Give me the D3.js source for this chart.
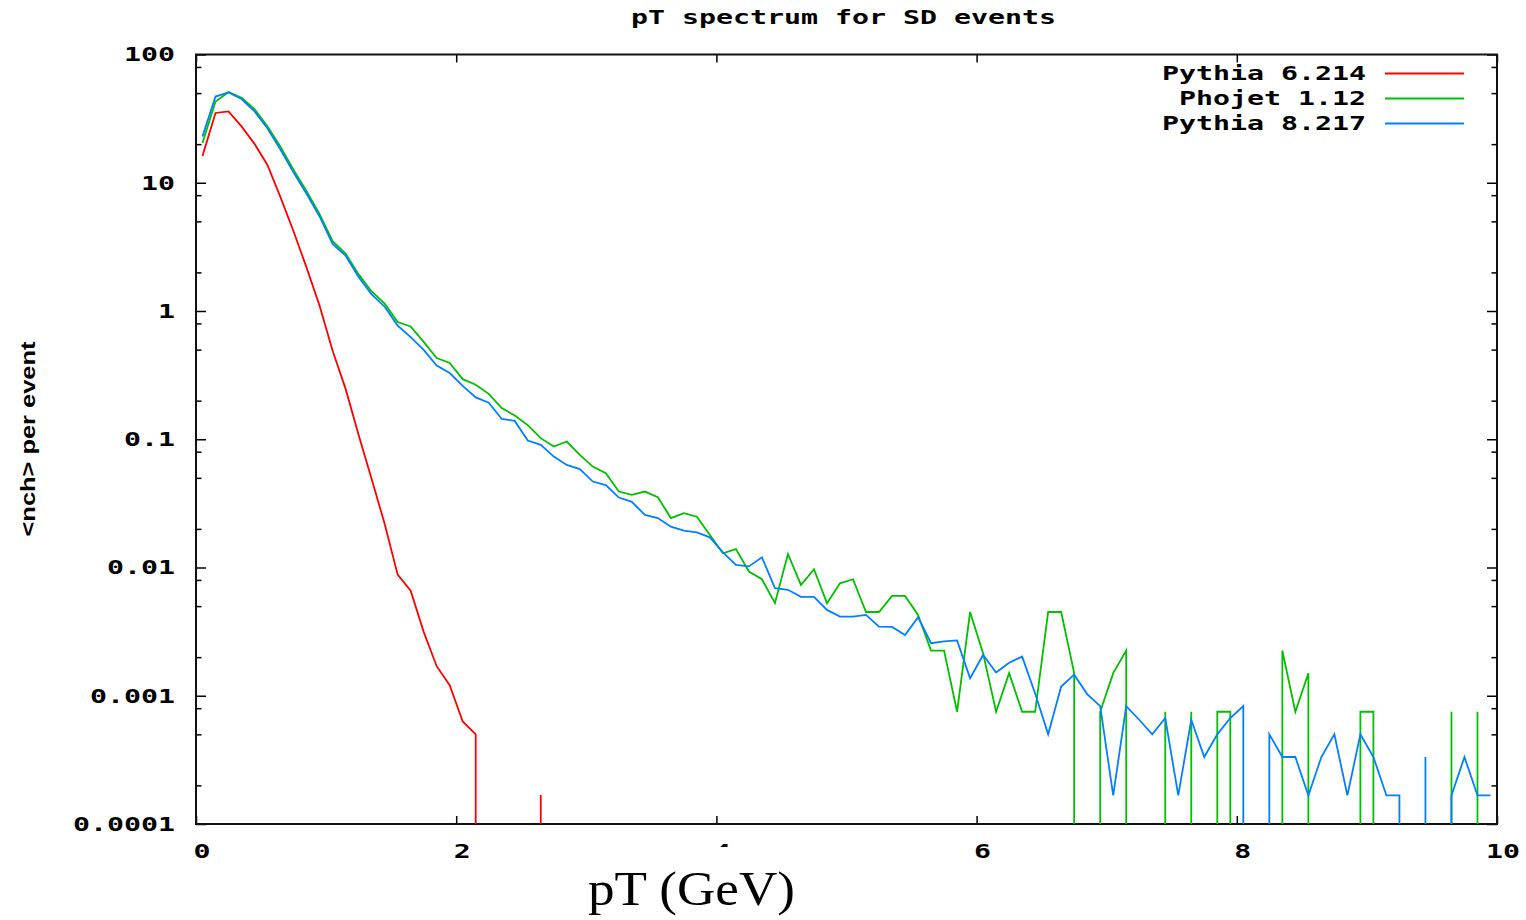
<!DOCTYPE html>
<html>
<head>
<meta charset="utf-8">
<script src="https://cdn.jsdelivr.net/npm/d3@7"></script>
<style>
  html, body { margin: 0; padding: 0; background: #fff; }
  svg { display: block; }
  .mono { font-family: "DejaVu Sans Mono", monospace; font-weight: bold; font-size: 20px; fill: #000; }
</style>
</head>
<body>
<svg width="1526" height="920"></svg>
<script>
// bins of 0.1 GeV, values at the bin centre
const ptBins = d3.range(100).map(i => +(0.05 + 0.1 * i).toFixed(2));

const pythia6 = [
  16.2, 35, 36, 27.5, 20.1, 13.7, 7.7, 4.17, 2.18, 1.1,
  0.49, 0.247, 0.108, 0.049, 0.0219, 0.0088, 0.0066, 0.00315, 0.0017, 0.00121,
  0.00063, 0.0005, 0, 0, 0, 0, 0.000168, 0, 0, 0,
  0, 0, 0, 0, 0, 0, 0, 0, 0, 0,
  0, 0, 0, 0, 0, 0, 0, 0, 0, 0,
  0, 0, 0, 0, 0, 0, 0, 0, 0, 0,
  0, 0, 0, 0, 0, 0, 0, 0, 0, 0,
  0, 0, 0, 0, 0, 0, 0, 0, 0, 0,
  0, 0, 0, 0, 0, 0, 0, 0, 0, 0,
  0, 0, 0, 0, 0, 0, 0, 0, 0, 0
];

const phojet = [
  20.4, 43, 51, 46, 37.5, 27.5, 19, 12.6, 8.6, 5.7,
  3.5, 2.8, 1.93, 1.42, 1.14, 0.82, 0.757, 0.575, 0.43, 0.393,
  0.294, 0.266, 0.226, 0.175, 0.153, 0.129, 0.102, 0.0877, 0.096, 0.0755,
  0.0612, 0.0543, 0.0391, 0.0368, 0.0391, 0.0353, 0.0243, 0.0265, 0.0249, 0.0179,
  0.0129, 0.0139, 0.0093, 0.0081, 0.00527, 0.01276, 0.00731, 0.0097, 0.00527, 0.00753,
  0.0081, 0.0045, 0.0045, 0.006, 0.006, 0.00427, 0.00225, 0.00225, 0.00075, 0.0045,
  0.00214, 0.00075, 0.0015, 0.00075, 0.00075, 0.0045, 0.0045, 0.0015, 0, 0.00075,
  0.0015, 0.00225, 0, 0, 0.00075, 0, 0.00075, 0, 0.00075, 0.00075,
  0, 0, 0, 0.00225, 0.00075, 0.0015, 0, 0, 0, 0.00075,
  0.00075, 0, 0, 0, 0, 0, 0.00075, 0, 0.00075, 0
];

const pythia8 = [
  23, 47, 50.6, 45, 36, 26.5, 18.1, 12, 8.2, 5.46,
  3.34, 2.7, 1.84, 1.35, 1.08, 0.77, 0.625, 0.498, 0.376, 0.328,
  0.261, 0.212, 0.193, 0.144, 0.139, 0.0977, 0.0904, 0.0733, 0.0631, 0.0585,
  0.0468, 0.0439, 0.0351, 0.0325, 0.0257, 0.0243, 0.0208, 0.0194, 0.0188, 0.0172,
  0.0131, 0.0105, 0.0102, 0.012, 0.0069, 0.0067, 0.0059, 0.0059, 0.00467, 0.00414,
  0.00414, 0.00427, 0.00346, 0.00344, 0.00298, 0.00409, 0.00257, 0.00265, 0.0027, 0.00137,
  0.00208, 0.00152, 0.00181, 0.00202, 0.00104, 0.0005, 0.00118, 0.00146, 0.00103, 0.00083,
  0.000167, 0.00083, 0.00065, 0.0005, 0.00067, 0.000167, 0.00065, 0.000333, 0.0005, 0.00067,
  0.00083, 0, 0.0005, 0.000333, 0.000333, 0.000167, 0.000333, 0.0005, 0.000167, 0.0005,
  0.000333, 0.000167, 0.000167, 0, 0.000333, 0, 0.000167, 0.000333, 0.000167, 0.000167
];

const seriesNames = ["Pythia 6.214", "Phojet 1.12", "Pythia 8.217"];
const seriesColors = ["#ff0000", "#00c000", "#0080ff"];

const xTicks = [0, 2, 4, 6, 8, 10];
const yTicks = [100, 10, 1, 0.1, 0.01, 0.001, 0.0001];
const yTickLabels = ["100", "10", "1", "0.1", "0.01", "0.001", "0.0001"];
const yMinorMult = [2, 5, 8];

const svg = d3.select("svg");
const plotLeft = 196, plotRight = 1497, plotTop = 54.5, plotBottom = 824;
const charW = 17;

const x = d3.scaleLinear().domain([0, 10]).range([plotLeft, plotRight]);
const y = d3.scaleLog().domain([1e-4, 100]).range([plotBottom, plotTop]);

// stretch the mono font so it looks like the gnuplot bitmap font
const stretch = sel => sel
    .attr("textLength", function () { return this.textContent.length * charW; })
    .attr("lengthAdjust", "spacingAndGlyphs");

// minor ticks on the log axis
const yMinor = [];
for (let e = -4; e < 2; e++) {
    yMinorMult.forEach(m => yMinor.push(m * Math.pow(10, e)));
}

// axes (ticks pointing inwards, mirrored on top and right)
const axisStyle = g => {
    g.select(".domain").remove();
    g.selectAll(".tick line").attr("stroke", "#000").attr("stroke-width", 1.5);
};

svg.append("g")
    .attr("transform", `translate(${plotLeft},0)`)
    .call(d3.axisLeft(y).tickValues(yTicks).tickSize(-10).tickPadding(21)
        .tickFormat((d, i) => yTickLabels[i]))
    .call(axisStyle)
    .call(g => g.selectAll("text").attr("class", "mono").call(stretch));

svg.append("g")
    .attr("transform", `translate(${plotLeft},0)`)
    .call(d3.axisLeft(y).tickValues(yMinor).tickSize(-5.5).tickFormat(""))
    .call(axisStyle);

svg.append("g")
    .attr("transform", `translate(${plotRight},0)`)
    .call(d3.axisRight(y).tickValues(yTicks).tickSize(-10).tickFormat(""))
    .call(axisStyle);

svg.append("g")
    .attr("transform", `translate(${plotRight},0)`)
    .call(d3.axisRight(y).tickValues(yMinor).tickSize(-5.5).tickFormat(""))
    .call(axisStyle);

svg.append("g")
    .attr("transform", `translate(0,${plotBottom})`)
    .call(d3.axisBottom(x).tickValues(xTicks).tickSize(-8).tickPadding(20).tickFormat(d3.format("d")))
    .call(axisStyle)
    .call(g => g.selectAll("text").attr("class", "mono").attr("dx", 5.5).call(stretch));

svg.append("g")
    .attr("transform", `translate(0,${plotTop})`)
    .call(d3.axisTop(x).tickValues(xTicks).tickSize(-8).tickFormat(""))
    .call(axisStyle);

// axis groups carry their own font settings, clear them so the class applies
svg.selectAll("g").attr("font-size", null).attr("font-family", null);

// frame
svg.append("rect")
    .attr("x", plotLeft).attr("y", plotTop)
    .attr("width", plotRight - plotLeft).attr("height", plotBottom - plotTop)
    .attr("fill", "none").attr("stroke", "#111").attr("stroke-width", 2);

// clip for the curves
svg.append("clipPath").attr("id", "plotclip")
    .append("rect")
    .attr("x", plotLeft).attr("y", plotTop)
    .attr("width", plotRight - plotLeft).attr("height", plotBottom - plotTop);

// gnuplot draws a zero bin on a log axis as a drop to -inf,
// so a neighbour of an empty bin gets a vertical line to the bottom
const toPoints = vals => {
    const pts = [];
    vals.forEach((v, i) => {
        if (v <= 0) return;
        const px = ptBins[i];
        if (i > 0 && vals[i - 1] === 0) pts.push({ x: px, v: 1e-4 });
        pts.push({ x: px, v: v });
        if (i < vals.length - 1 && vals[i + 1] === 0) {
            pts.push({ x: px, v: 1e-4 });
            pts.push(null);
        }
    });
    return pts;
};

const line = d3.line()
    .defined(d => d !== null)
    .x(d => x(d.x))
    .y(d => y(d.v));

const series = [pythia6, phojet, pythia8];

svg.append("g")
    .attr("clip-path", "url(#plotclip)")
    .selectAll("path")
    .data(series)
    .join("path")
    .attr("d", d => line(toPoints(d)))
    .attr("fill", "none")
    .attr("stroke", (d, i) => seriesColors[i])
    .attr("stroke-width", 1.8)
    .attr("stroke-linejoin", "miter");

// legend
const legend = svg.append("g")
    .selectAll("g")
    .data(seriesNames)
    .join("g")
    .attr("transform", (d, i) => `translate(0, ${73.5 + i * 25})`);

legend.append("text")
    .attr("class", "mono")
    .attr("x", 1366)
    .attr("dy", "0.32em")
    .attr("text-anchor", "end")
    .text(d => d)
    .call(stretch);

legend.append("line")
    .attr("x1", 1385).attr("x2", 1464)
    .attr("stroke", (d, i) => seriesColors[i])
    .attr("stroke-width", 1.8);

// title
svg.append("text")
    .attr("class", "mono")
    .attr("x", 843.5).attr("y", 23.5)
    .attr("text-anchor", "middle")
    .text("pT spectrum for SD events")
    .call(stretch);

// y label
svg.append("text")
    .attr("transform", "translate(35,439) rotate(-90)")
    .attr("text-anchor", "middle")
    .attr("font-family", "Liberation Sans, Arial, sans-serif")
    .attr("font-weight", "bold")
    .attr("font-size", 20)
    .attr("textLength", 195)
    .attr("lengthAdjust", "spacingAndGlyphs")
    .text("<nch> per event");

// x label was pasted over the plot with a white box
svg.append("rect")
    .attr("x", 575).attr("y", 847)
    .attr("width", 235).attr("height", 73)
    .attr("fill", "#fff");

svg.append("text")
    .attr("x", 691.5).attr("y", 905)
    .attr("text-anchor", "middle")
    .attr("font-family", "Liberation Serif, Times New Roman, serif")
    .attr("font-size", 48)
    .attr("textLength", 207)
    .attr("lengthAdjust", "spacingAndGlyphs")
    .text("pT (GeV)");
</script>
</body>
</html>
